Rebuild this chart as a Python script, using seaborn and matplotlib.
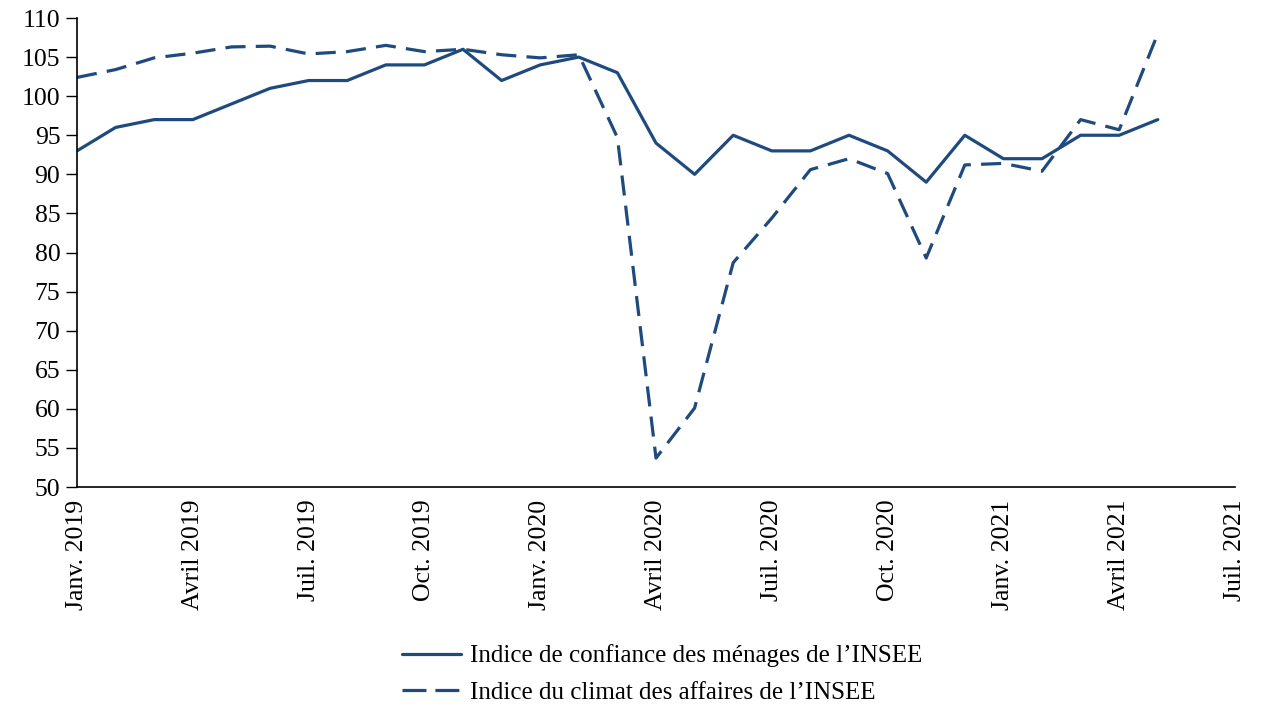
import matplotlib
matplotlib.use("Agg")
import matplotlib.pyplot as plt
import seaborn as sns
import pandas as pd

months = list(range(29))  # Jan 2019 .. May 2021
menages = [93, 96, 97, 97, 99, 101, 102, 102, 104, 104, 106, 102,
           104, 105, 103, 94, 90, 95, 93, 93, 95, 93, 89, 95,
           92, 92, 95, 95, 97]
affaires = [102.4, 103.4, 104.9, 105.5, 106.3, 106.4, 105.4, 105.7, 106.5, 105.7, 106.0, 105.3,
            104.9, 105.3, 94.7, 53.7, 60.1, 78.7, 84.4, 90.6, 92.0, 90.1, 79.3, 91.2,
            91.4, 90.4, 97.0, 95.7, 108.0]
tick_pos = list(range(0, 31, 3))
tick_labels = ["Janv. 2019", "Avril 2019", "Juil. 2019", "Oct. 2019",
               "Janv. 2020", "Avril 2020", "Juil. 2020", "Oct. 2020",
               "Janv. 2021", "Avril 2021", "Juil. 2021"]
label_menages = "Indice de confiance des ménages de l\u2019INSEE"
label_affaires = "Indice du climat des affaires de l\u2019INSEE"

sns.set_style("white")
plt.rcParams['font.family'] = ['Liberation Serif', 'DejaVu Serif']
plt.rcParams['text.color'] = 'black'
plt.rcParams['xtick.color'] = 'black'
plt.rcParams['ytick.color'] = 'black'

color = "#1f4a7e"
df = pd.DataFrame({"mois": months, "menages": menages, "affaires": affaires})

fig = plt.figure(figsize=(12.67, 7.2), dpi=100)
ax = fig.add_axes([77/1267, 1 - 487/720, (1235 - 77)/1267, (487 - 18)/720])

sns.lineplot(data=df, x="mois", y="menages", ax=ax, color=color, lw=2.3,
             label=label_menages)
sns.lineplot(data=df, x="mois", y="affaires", ax=ax, color=color, lw=2.3,
             dashes=False, label=label_affaires)
ax.lines[1].set_dashes([6.3, 3.2])

ax.set_xlim(0, 30)
ax.set_ylim(50, 110)
ax.set_yticks(range(50, 111, 5))
ax.set_xticks(tick_pos)
ax.set_xticklabels(tick_labels, rotation=90, fontsize=18.5)
ax.tick_params(axis="y", labelsize=18.5, length=8, width=1, direction="out", left=True, pad=4,
               colors="black")
ax.tick_params(axis="x", length=0, pad=9, colors="black")
ax.set_xlabel("")
ax.set_ylabel("")
for s in ["top", "right"]:
    ax.spines[s].set_visible(False)
for s in ["left", "bottom"]:
    ax.spines[s].set_color("black")
    ax.spines[s].set_linewidth(1.2)

leg = ax.legend(loc="center", bbox_to_anchor=(662/1267, 1 - 674/720), bbox_transform=fig.transFigure,
                frameon=False, fontsize=18, handlelength=2.36, handletextpad=0.36, labelspacing=0.55)
for t in leg.get_texts():
    t.set_color("black")
leg.get_lines()[1].set_dashes([7.5, 2.8])

fig.savefig("out.png", dpi=100)
